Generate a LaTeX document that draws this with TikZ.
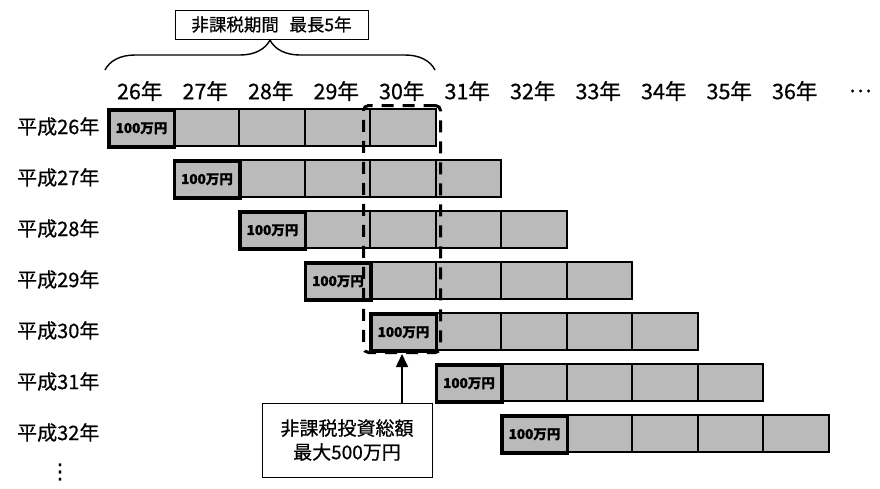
\documentclass[tikz,border=0pt]{standalone}
\usepackage{fontspec}
\setmainfont{Noto Sans CJK JP}[FakeBold=0.6]
\newfontfamily\djv{DejaVu Sans}[FakeBold=1]
\usetikzlibrary{decorations.pathreplacing,arrows.meta}
\begin{document}
\begin{tikzpicture}[x=1pt,y=-1pt,
  cell/.style={draw=black,line width=2pt,fill=black!27,minimum width=65.5pt,minimum height=37pt,inner sep=0pt,anchor=north west},
  firstcell/.style={cell,line width=3.5pt,font=\fontsize{13.5}{13.5}\selectfont\bfseries},
  rowlabel/.style={anchor=west,font=\fontsize{20}{20}\selectfont,inner sep=0pt},
  yearlabel/.style={font=\fontsize{21.5}{21.5}\selectfont,inner sep=0pt},
  labelbox/.style={draw=black,line width=1pt,fill=white,inner sep=0pt,align=center},
  selbox/.style={draw=black,line width=3pt,dash pattern=on 12pt off 9pt,rounded corners=5pt,inner sep=0pt,minimum width=77pt,minimum height=247pt,anchor=north west},
  bracestyle/.style={draw=black,line width=1.4pt,decorate,decoration={brace,amplitude=30pt,aspect=0.5}},
  arrowstyle/.style={draw=black,line width=1.6pt,-{Triangle[length=13pt,width=12pt]}}]
\useasboundingbox (0,0) rectangle (880,488);
% year headers
\foreach \c in {0,...,10}{
  \pgfmathtruncatemacro\yy{26+\c}
  \node[yearlabel] (h\c) at ({107+65.5*(\c+0.5)},91) {\yy 年};
}
\node[yearlabel] (hdots) at ({107+65.5*11.5},91) {…};
% rows
\foreach \r in {1,...,7}{
  \pgfmathsetmacro\ty{108+51*(\r-1)}
  \pgfmathtruncatemacro\yr{25+\r}
  \node[rowlabel] (lab\r) at (17,{\ty+18.5}) {平成\yr 年};
  \foreach \k in {1,...,4}{
    \node[cell] (r\r-\k) at ({107+65.5*(\r-1+\k)},\ty) {};
  }
  \node[firstcell] (r\r-0) at ({107+65.5*(\r-1)},\ty) {100万円};
}
\node[font=\djv\fontsize{21}{21}\selectfont,inner sep=0pt] (vdots) at (60,472) {⋮};
% selection
\node[selbox] (sel) at (362,104) {};
% title and brace
\node[labelbox,minimum width=193pt,minimum height=29pt,font=\fontsize{17.5}{18}\selectfont] (title) at (271.5,24.5) {非課税期間\hspace{0.6em}最長5年};
\coordinate (bl) at (105,70);
\coordinate (br) at (435,70);
\draw[bracestyle] (bl) -- (br);
% total box
\node[labelbox,minimum width=170pt,minimum height=74pt,font=\fontsize{19}{24}\selectfont] (total) at (347,440) {非課税投資総額\\最大500万円};
\draw[arrowstyle] (sel.south |- total.north) -- (sel.south);
\end{tikzpicture}
\end{document}
